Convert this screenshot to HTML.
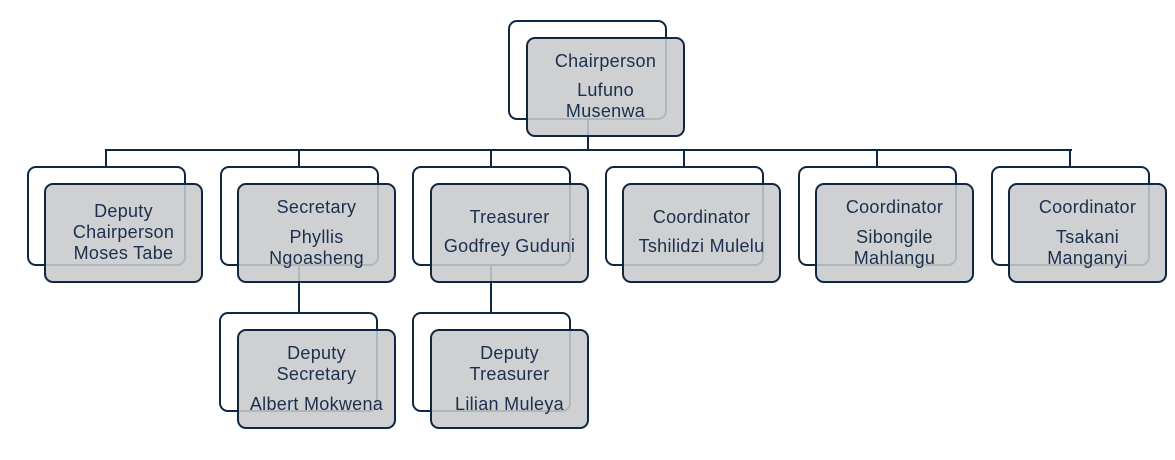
<!DOCTYPE html>
<html><head><meta charset="utf-8"><style>
html,body{margin:0;padding:0;background:#fff;}
body{width:1175px;height:460px;position:relative;overflow:hidden;font-family:"Liberation Sans",sans-serif;}
.ln{position:absolute;background:#0e2841;}
.bk{position:absolute;width:159px;height:100px;box-sizing:border-box;border:2px solid #0e2841;border-radius:9px;background:#fff;}
.fr{position:absolute;width:159px;height:100px;box-sizing:border-box;border:2px solid #0e2841;border-radius:9px;background:rgba(200,201,204,0.88);}
.t{position:absolute;width:159px;text-align:center;font-size:18px;letter-spacing:0.3px;line-height:21px;color:#1a304d;white-space:nowrap;}
</style></head><body>
<!-- connectors -->
<div class="ln" style="left:587px;top:118px;width:2px;height:33px;"></div>
<div class="ln" style="left:105px;top:149px;width:967px;height:2px;"></div>
<div class="ln" style="left:105px;top:149px;width:2px;height:18px;"></div>
<div class="ln" style="left:298px;top:149px;width:2px;height:18px;"></div>
<div class="ln" style="left:490px;top:149px;width:2px;height:18px;"></div>
<div class="ln" style="left:683px;top:149px;width:2px;height:18px;"></div>
<div class="ln" style="left:876px;top:149px;width:2px;height:18px;"></div>
<div class="ln" style="left:1069px;top:149px;width:2px;height:18px;"></div>
<div class="ln" style="left:298px;top:264px;width:2px;height:49px;"></div>
<div class="ln" style="left:490px;top:264px;width:2px;height:49px;"></div>

<!-- back boxes -->
<div class="bk" style="left:508px;top:20px;"></div>
<div class="bk" style="left:27px;top:166px;"></div>
<div class="bk" style="left:220px;top:166px;"></div>
<div class="bk" style="left:412px;top:166px;"></div>
<div class="bk" style="left:605px;top:166px;"></div>
<div class="bk" style="left:798px;top:166px;"></div>
<div class="bk" style="left:991px;top:166px;"></div>
<div class="bk" style="left:219px;top:312px;"></div>
<div class="bk" style="left:412px;top:312px;"></div>

<div class="ln" style="left:587px;top:118px;width:2px;height:20px;opacity:0.15"></div>

<!-- front boxes -->
<div class="fr" style="left:526px;top:37px;"></div>
<div class="fr" style="left:44px;top:183px;"></div>
<div class="fr" style="left:237px;top:183px;"></div>
<div class="fr" style="left:430px;top:183px;"></div>
<div class="fr" style="left:622px;top:183px;"></div>
<div class="fr" style="left:815px;top:183px;"></div>
<div class="fr" style="left:1008px;top:183px;"></div>
<div class="fr" style="left:237px;top:329px;"></div>
<div class="fr" style="left:430px;top:329px;"></div>

<!-- text -->
<div class="t" style="left:526px;top:51px;">Chairperson</div>
<div class="t" style="left:526px;top:80px;">Lufuno</div>
<div class="t" style="left:526px;top:101px;">Musenwa</div>

<div class="t" style="left:44px;top:201px;">Deputy</div>
<div class="t" style="left:44px;top:221.5px;">Chairperson</div>
<div class="t" style="left:44px;top:242.5px;">Moses Tabe</div>

<div class="t" style="left:237px;top:196.5px;">Secretary</div>
<div class="t" style="left:237px;top:226.5px;">Phyllis</div>
<div class="t" style="left:237px;top:247.5px;">Ngoasheng</div>

<div class="t" style="left:430px;top:207px;">Treasurer</div>
<div class="t" style="left:430px;top:236px;">Godfrey Guduni</div>

<div class="t" style="left:622px;top:207px;">Coordinator</div>
<div class="t" style="left:622px;top:236px;">Tshilidzi Mulelu</div>

<div class="t" style="left:815px;top:196.5px;">Coordinator</div>
<div class="t" style="left:815px;top:226.5px;">Sibongile</div>
<div class="t" style="left:815px;top:247.5px;">Mahlangu</div>

<div class="t" style="left:1008px;top:196.5px;">Coordinator</div>
<div class="t" style="left:1008px;top:226.5px;">Tsakani</div>
<div class="t" style="left:1008px;top:247.5px;">Manganyi</div>

<div class="t" style="left:237px;top:342.5px;">Deputy</div>
<div class="t" style="left:237px;top:363.5px;">Secretary</div>
<div class="t" style="left:237px;top:393.5px;">Albert Mokwena</div>

<div class="t" style="left:430px;top:342.5px;">Deputy</div>
<div class="t" style="left:430px;top:363.5px;">Treasurer</div>
<div class="t" style="left:430px;top:393.5px;">Lilian Muleya</div>
</body></html>
